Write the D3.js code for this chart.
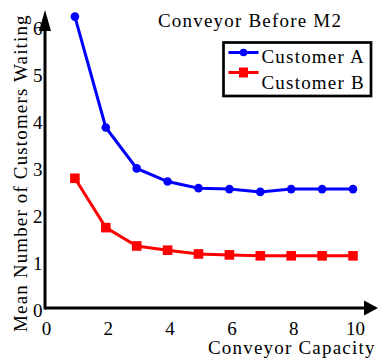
<!DOCTYPE html>
<html><head><meta charset="utf-8">
<script src="https://cdn.jsdelivr.net/npm/d3@7"></script>
<style>
html,body{margin:0;padding:0;background:#fff;}
text{font-family:"Liberation Serif","Times New Roman",serif;fill:#000;}
</style></head>
<body><svg id="c" width="378" height="360"></svg>
<script>
const capacity = [1,2,3,4,5,6,7,8,9,10];
const customerA = [6.2,3.84,2.97,2.69,2.55,2.53,2.47,2.53,2.53,2.53];
const customerB = [2.76,1.71,1.32,1.23,1.15,1.13,1.11,1.11,1.11,1.11];
const xTicks = [0,2,4,6,8,10];
const yTicks = [0,1,2,3,4,5,6];
const seriesNames = ["Customer A","Customer B"];
const seriesColors = ["#0000ff","#ff0000"];
const titleText = "Conveyor Before M2";
const xTitle = "Conveyor Capacity";
const yTitle = "Mean Number of Customers Waiting";

const svg = d3.select("#c");
const x = d3.scaleLinear().domain([0,10]).range([44,353]);
const y = d3.scaleLinear().domain([0,6]).range([308,26]);

// axes
svg.append("line").attr("x1",45).attr("x2",366).attr("y1",308).attr("y2",308)
  .attr("stroke","#000").attr("stroke-width",3);
svg.append("line").attr("x1",45).attr("x2",45).attr("y1",309.5).attr("y2",28)
  .attr("stroke","#000").attr("stroke-width",3);
svg.append("path").attr("d","M45,10 L39,31 L51,31 Z").attr("fill","#000");
svg.append("path").attr("d","M378,308 L364,300.5 L364,315.5 Z").attr("fill","#000");

// tick labels
svg.selectAll(".xt").data(xTicks).enter().append("text")
  .attr("x",d=>x(d)+2.5).attr("y",335).attr("text-anchor","middle")
  .attr("font-size",19).text(d=>d);
svg.selectAll(".yt").data(yTicks).enter().append("text")
  .attr("x",42.5).attr("y",d=>y(d)+9).attr("text-anchor","end")
  .attr("font-size",19).text(d=>d);

// titles
svg.append("text").attr("x",158).attr("y",26.5).attr("font-size",19)
  .attr("letter-spacing",1.2).text(titleText);
svg.append("text").attr("x",208).attr("y",354).attr("font-size",19)
  .attr("letter-spacing",1.2).text(xTitle);
svg.append("text").attr("transform","translate(26.5,332) rotate(-90)")
  .attr("font-size",19).attr("letter-spacing",1.15).text(yTitle);

// series
const line = d3.line().x((d,i)=>x(capacity[i])).y(d=>y(d));
svg.append("path").datum(customerA).attr("d",line).attr("fill","none")
  .attr("stroke",seriesColors[0]).attr("stroke-width",3);
svg.append("path").datum(customerB).attr("d",line).attr("fill","none")
  .attr("stroke",seriesColors[1]).attr("stroke-width",3);
svg.selectAll(".ma").data(customerA).enter().append("circle")
  .attr("cx",(d,i)=>x(capacity[i])).attr("cy",d=>y(d)).attr("r",4.3)
  .attr("fill",seriesColors[0]);
svg.selectAll(".mb").data(customerB).enter().append("rect")
  .attr("x",(d,i)=>x(capacity[i])-4.8).attr("y",d=>y(d)-4.8)
  .attr("width",9.6).attr("height",9.6).attr("fill",seriesColors[1]);

// legend
svg.append("rect").attr("x",223.5).attr("y",42.5).attr("width",147.5).attr("height",53.5)
  .attr("fill","#fff").attr("stroke","#000").attr("stroke-width",2.7);
const ly = [52.5,72.5];
const ty = [62.7,89.3];
seriesNames.forEach((n,i)=>{
  svg.append("line").attr("x1",228.5).attr("x2",258.5).attr("y1",ly[i]).attr("y2",ly[i])
    .attr("stroke",seriesColors[i]).attr("stroke-width",3);
  if(i===0){
    svg.append("circle").attr("cx",243.5).attr("cy",ly[i]).attr("r",3.8).attr("fill",seriesColors[i]);
  } else {
    svg.append("rect").attr("x",239).attr("y",ly[i]-5).attr("width",9).attr("height",10).attr("fill",seriesColors[i]);
  }
  svg.append("text").attr("x",261.5).attr("y",ty[i]).attr("font-size",19)
    .attr("letter-spacing",1.2).text(n);
});
</script></body></html>
